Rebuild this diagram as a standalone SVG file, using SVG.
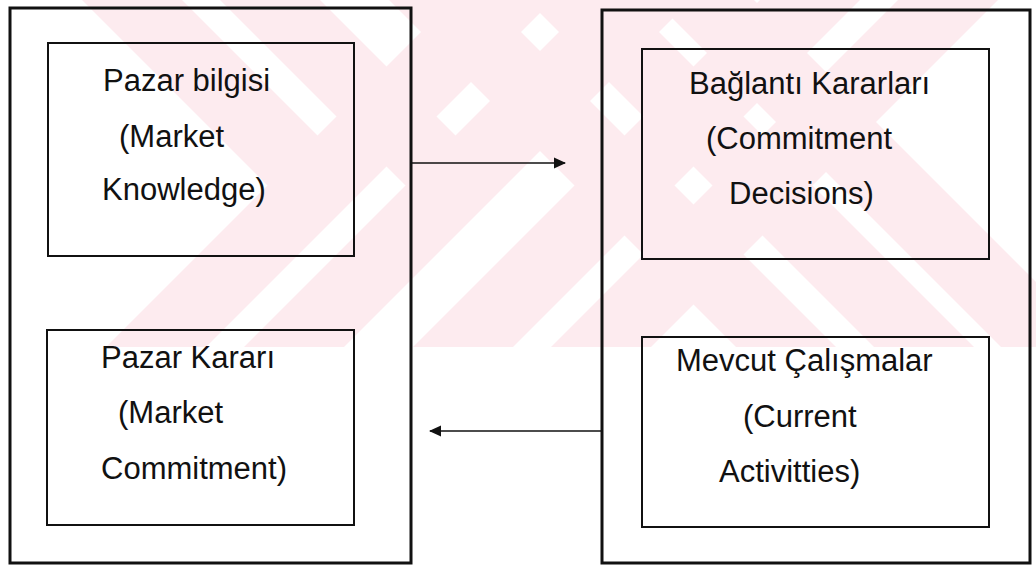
<svg xmlns="http://www.w3.org/2000/svg" width="1036" height="566" viewBox="0 0 1036 566">
<defs>
<style>
.wm{fill:#fdebef}
.outer{fill:none;stroke:#111;stroke-width:3}
.inner{fill:none;stroke:#111;stroke-width:2}
.lbl{font-family:"Liberation Sans",Arial,sans-serif;font-size:31px;fill:#111}
.conn{stroke:#111;stroke-width:1.6;fill:none}
</style>
<marker id="ah" markerUnits="userSpaceOnUse" markerWidth="12" markerHeight="12" viewBox="0 0 12 12" refX="11" refY="6" orient="auto">
<path d="M0,0.5 L12,6 L0,11.5 Z" fill="#111"/>
</marker>
<clipPath id="wmclip"><rect x="0" y="0" width="1036" height="347"/></clipPath>
</defs>
<rect width="1036" height="566" fill="#ffffff"/>
<g id="watermark" clip-path="url(#wmclip)">
<polygon class="wm" points="453,0 553,0 206,347 106,347"/>
<polygon class="wm" points="591,0 691,0 344,347 244,347"/>
<polygon class="wm" points="760,0 860,0 513,347 413,347"/>
<polygon class="wm" points="898,0 998,0 651,347 551,347"/>
<polygon class="wm" points="389,0 489,0 836,347 736,347"/>
<polygon class="wm" points="527,0 627,0 974,347 874,347"/>
<polygon class="wm" points="654,0 754,0 1101,347 1001,347"/>
<polygon class="wm" points="82,0 182,0 367.5,185.5 267.5,185.5"/>
<polygon class="wm" points="220,0 320,0 505.5,185.5 405.5,185.5"/>
</g>
<g id="left-group">
<rect class="outer" x="10" y="8" width="401" height="555"/>
</g>
<g id="right-group">
<rect class="outer" x="602" y="10" width="428" height="553"/>
</g>
<g id="node-pazar-bilgisi">
<rect class="inner" x="48" y="43" width="306" height="213"/>
<text class="lbl" x="103" y="91">Pazar bilgisi</text>
<text class="lbl" x="119" y="147">(Market</text>
<text class="lbl" x="102" y="200">Knowledge)</text>
</g>
<g id="node-pazar-karari">
<rect class="inner" x="47" y="330" width="307" height="195"/>
<text class="lbl" x="101" y="368">Pazar Kararı</text>
<text class="lbl" x="118" y="423">(Market</text>
<text class="lbl" x="101" y="479">Commitment)</text>
</g>
<g id="node-baglanti-kararlari">
<rect class="inner" x="642" y="49" width="347" height="210"/>
<text class="lbl" x="689" y="94">Bağlantı Kararları</text>
<text class="lbl" x="706" y="149">(Commitment</text>
<text class="lbl" x="729" y="204">Decisions)</text>
</g>
<g id="node-mevcut-calismalar">
<rect class="inner" x="642" y="337" width="347" height="190"/>
<text class="lbl" x="676" y="371">Mevcut Çalışmalar</text>
<text class="lbl" x="743" y="427">(Current</text>
<text class="lbl" x="719" y="482">Activitties)</text>
</g>
<g id="connectors">
<line class="conn" x1="412" y1="163" x2="565" y2="163" marker-end="url(#ah)"/>
<line class="conn" x1="602" y1="431" x2="430" y2="431" marker-end="url(#ah)"/>
</g>
</svg>
